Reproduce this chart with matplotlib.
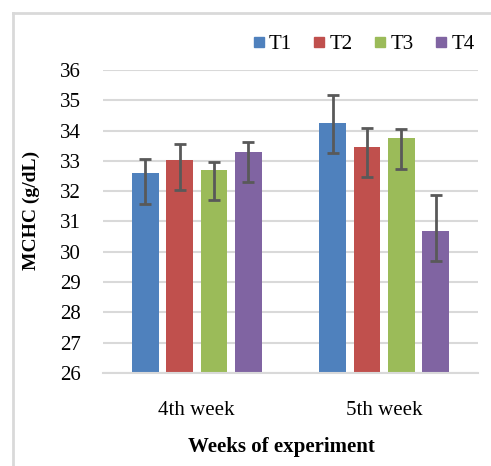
import matplotlib
matplotlib.use("Agg")
import matplotlib.pyplot as plt
import numpy as np
from matplotlib.lines import Line2D

categories = ["4th week", "5th week"]
series = ["T1", "T2", "T3", "T4"]
values = {
    "T1": [32.59, 34.25],
    "T2": [33.03, 33.47],
    "T3": [32.70, 33.74],
    "T4": [33.29, 30.70],
}
err_low = {
    "T1": [1.0, 1.0],
    "T2": [1.0, 1.0],
    "T3": [1.0, 1.0],
    "T4": [1.0, 1.0],
}
err_high = {
    "T1": [0.48, 0.92],
    "T2": [0.54, 0.63],
    "T3": [0.28, 0.30],
    "T4": [0.32, 1.19],
}
colors = ["#4F81BD", "#C0504D", "#9BBB59", "#8064A2"]

plt.rcParams['font.family'] = ['Liberation Serif', 'DejaVu Serif']

fig = plt.figure(figsize=(4.91, 4.66), dpi=100)
ax = fig.add_axes([103/491, 1-373/466, 375/491, 303/466])

x = np.arange(len(categories))
width = 0.142
step = 0.183
for i, s in enumerate(series):
    pos = x + (i - 1.5) * step
    ax.bar(pos, np.array(values[s]) - 26, bottom=26, width=width, color=colors[i], zorder=2)
    ax.errorbar(pos, values[s], yerr=[err_low[s], err_high[s]], fmt='none',
                ecolor='#595959', elinewidth=2, capsize=4.5, capthick=2, zorder=3)

ax.set_xlim(-0.5, 1.5)
ax.set_ylim(26, 36)
ax.set_yticks(np.arange(26, 37, 1))
ax.set_xticks(x)
ax.set_xticklabels(categories)
ax.grid(axis='y', color='#D9D9D9', linewidth=1.5, zorder=0)
ax.set_axisbelow(True)
for sp in ['top', 'right', 'left']:
    ax.spines[sp].set_visible(False)
ax.spines['bottom'].set_color('#D9D9D9')
ax.spines['bottom'].set_linewidth(1.5)
ax.tick_params(axis='both', length=0, labelsize=15)
ax.tick_params(axis='y', pad=16)
ax.tick_params(axis='x', pad=20)

ax.set_ylabel("MCHC (g/dL)", fontsize=14, fontweight='bold')
ax.yaxis.set_label_coords(-0.168, 0.535)
ax.set_xlabel("Weeks of experiment", fontsize=15, fontweight='bold')
ax.xaxis.set_label_coords(0.475, -0.21)

handles = [Line2D([], [], marker='s', linestyle='none', markersize=7.7,
                  markerfacecolor=c, markeredgecolor=c) for c in colors]
fig.legend(handles, series, loc='center', bbox_to_anchor=(363/491, 1-44/466),
           ncol=4, frameon=False, fontsize=15, handletextpad=0.15,
           columnspacing=0.96, handlelength=0.7, borderpad=0, borderaxespad=0)

# outer border
fig.add_artist(Line2D([13/491, 1.0], [1-13/466, 1-13/466], transform=fig.transFigure,
                      color='#D9D9D9', linewidth=2))
fig.add_artist(Line2D([13/491, 13/491], [0, 1-13/466], transform=fig.transFigure,
                      color='#D9D9D9', linewidth=2))

fig.savefig("out.png", dpi=100)
